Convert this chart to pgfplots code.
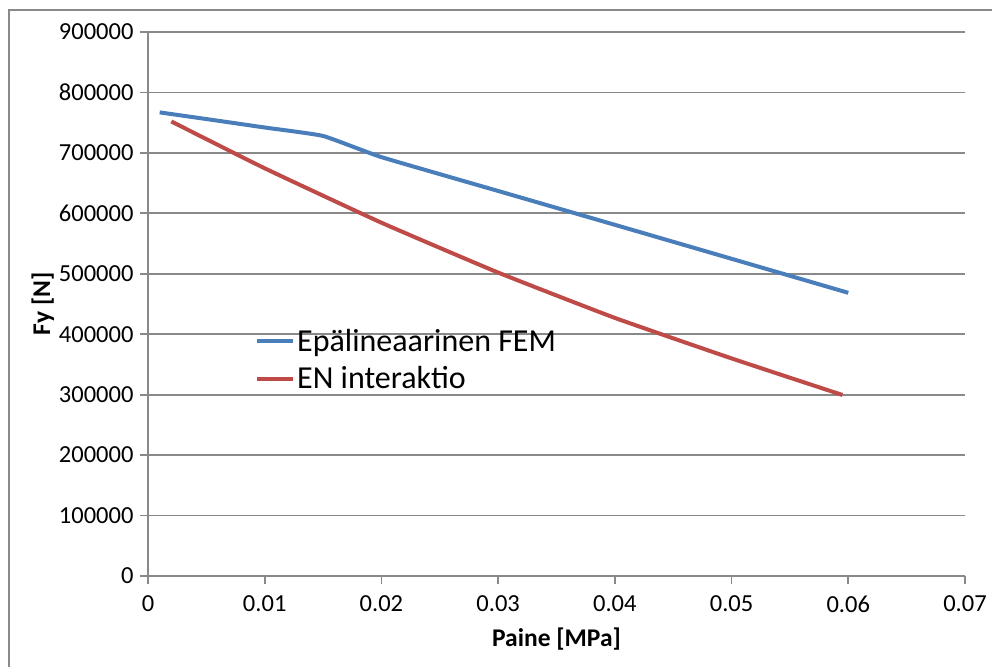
\documentclass[border=0pt]{standalone}
\usepackage{pgfplots}
\pgfplotsset{compat=1.18}
\usepackage{fontspec}
\setmainfont{Carlito}
\definecolor{gridgray}{HTML}{898989}
\definecolor{xlblue}{HTML}{4A7EBB}
\definecolor{xlred}{HTML}{BE4B48}
\begin{document}
\begin{tikzpicture}[x=1pt,y=1pt]
\path[use as bounding box] (0,0) rectangle (992,666);
\draw[gridgray, line width=1.5pt] (9,-20) rectangle (1010,656);
\begin{axis}[
  at={(148pt,90pt)}, anchor=origin,
  scale only axis, width=817pt, height=544pt,
  xmin=0, xmax=0.07, ymin=0, ymax=900000,
  xtick={0,0.01,...,0.07}, ytick={0,100000,...,900000},
  scaled x ticks=false, scaled y ticks=false,
  axis x line=bottom, axis y line=left,
  axis line style={gridgray, line width=1.8pt, -},
  tick align=outside, major tick length=8pt,
  tick style={gridgray, line width=1.8pt},
  ymajorgrids, grid style={gridgray, line width=1.8pt},
  /pgf/number format/assume math mode=true,
  xticklabel style={/pgf/number format/.cd, fixed, precision=2, /tikz/.cd, font=\fontsize{24.5}{28}\selectfont, yshift=-8pt},
  yticklabel style={/pgf/number format/.cd, fixed, 1000 sep={}, /tikz/.cd, font=\fontsize{24.5}{28}\selectfont, xshift=-3pt},
  xlabel={\textbf{Paine [MPa]}}, ylabel={\textbf{Fy [N]}},
  label style={font=\fontsize{25.5}{29}\selectfont},
  xlabel style={yshift=-9pt},
  ylabel style={yshift=-2pt},
  legend style={draw=none, fill=none, at={(0.131,0.458)}, anchor=north west,
    font=\fontsize{32}{36}\selectfont, row sep=10pt, inner sep=0pt},
  legend cell align=left,
  legend image code/.code={\draw[#1, line width=4pt] (0pt,0pt) -- (36pt,0pt);},
]
\addplot[xlblue, line width=4pt, smooth, tension=0.25] coordinates {
 (0.001,767000) (0.005,756000) (0.01,742000) (0.015,728000) (0.02,693000)
 (0.03,637000) (0.04,581000) (0.05,524800) (0.06,468500)};
\addlegendentry{Epälineaarinen FEM}
\addplot[xlred, line width=4pt, smooth, tension=0.25] coordinates {
 (0.002,752000) (0.01,674500) (0.02,584500) (0.03,502000)
 (0.04,427000) (0.05,360000) (0.0595,299500)};
\addlegendentry{EN interaktio}
\end{axis}
\end{tikzpicture}
\end{document}
